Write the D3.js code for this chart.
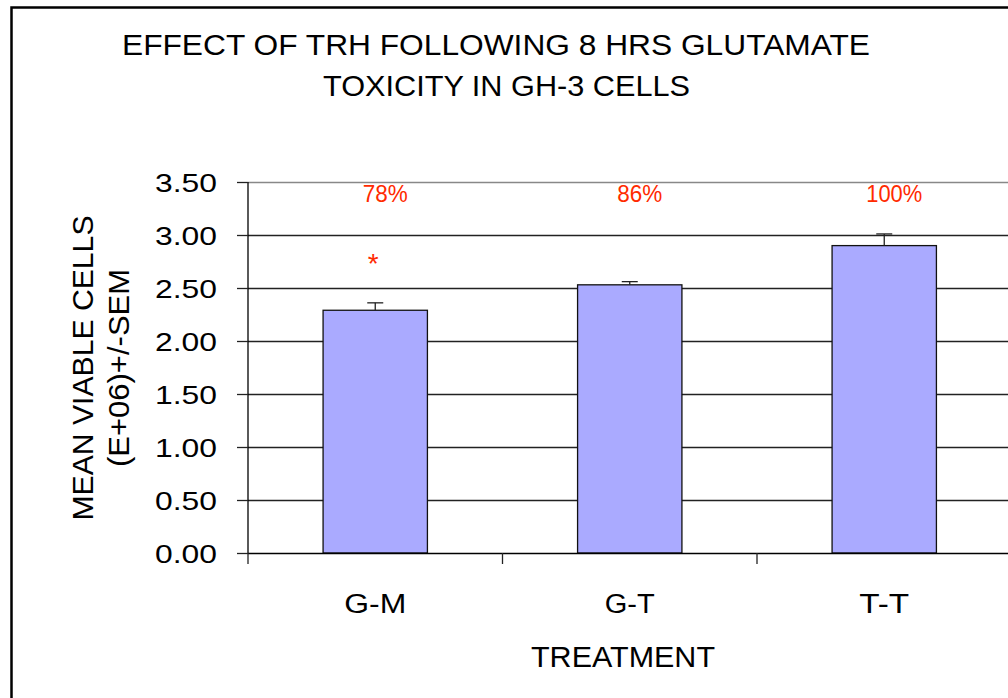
<!DOCTYPE html>
<html><head><meta charset="utf-8">
<script src="https://cdn.jsdelivr.net/npm/d3@7"></script>
<style>body{margin:0;background:#fff}svg{display:block;font-family:"Liberation Sans",Arial,sans-serif}</style>
</head><body><svg id="c" width="1008" height="698"></svg>
<script>
const categories = ["G-M","G-T","T-T"];
const values = [2.29, 2.53, 2.90];
const errors = [0.07, 0.03, 0.11];
const pctLabels = ["78%","86%","100%"];
const sigMarks = ["*","",""];
const yTicks = [0,0.5,1,1.5,2,2.5,3,3.5];

const svg = d3.select("#c");
svg.append("rect").attr("x",11.5).attr("y",7.5).attr("width",1010).attr("height",700)
  .attr("fill","none").attr("stroke","#000").attr("stroke-width",2.5);

const L=248, R=1011.5, T=182, B=553;
const x = d3.scaleBand().domain(categories).range([L,R]).paddingInner(0.59).paddingOuter(0.295);
const y = d3.scaleLinear().domain([0,3.5]).range([B,T]);

function fit(sel, w){ sel.attr("textLength", w).attr("lengthAdjust","spacingAndGlyphs"); return sel; }

svg.append("g").selectAll("line").data(yTicks.slice(1)).join("line")
  .attr("x1",L).attr("x2",R).attr("y1",d=>y(d)+0.5).attr("y2",d=>y(d)+0.5)
  .attr("stroke",d=>d===3.5?"#888":"#222").attr("stroke-width",1.3);

svg.append("g").selectAll("rect").data(values).join("rect")
  .attr("x",(d,i)=>x(categories[i])).attr("width",x.bandwidth())
  .attr("y",d=>y(d)).attr("height",d=>B-y(d))
  .attr("fill","#aaaaff").attr("stroke","#111").attr("stroke-width",1.3);

const eg = svg.append("g").attr("stroke","#222").attr("stroke-width",1.3);
values.forEach((v,i)=>{
  const cx = x(categories[i])+x.bandwidth()/2;
  eg.append("line").attr("x1",cx).attr("x2",cx).attr("y1",y(v)).attr("y2",y(v+errors[i]));
  eg.append("line").attr("x1",cx-8).attr("x2",cx+8).attr("y1",y(v+errors[i])).attr("y2",y(v+errors[i]));
});

const ya = svg.append("g").attr("transform",`translate(${L},0)`)
  .call(d3.axisLeft(y).tickValues(yTicks).tickFormat(d3.format(".2f")).tickSize(11).tickPadding(20));
ya.select(".domain").attr("d",`M0,${T}V${B}`).attr("stroke","#000").attr("stroke-width",1.3);
ya.selectAll(".tick line").attr("stroke","#222").attr("stroke-width",1.3);
const tl = ya.selectAll(".tick text").attr("font-size",26).attr("fill","#000")
  .attr("font-family","Liberation Sans, Arial, sans-serif").attr("dy","0.36em");
fit(tl, 62);

const xa = svg.append("g").attr("transform",`translate(0,${B})`);
xa.append("line").attr("x1",L).attr("x2",R).attr("y1",0.5).attr("y2",0.5).attr("stroke","#000").attr("stroke-width",1.5);
const bounds = d3.range(categories.length+1).map(i=>L+i*(R-L)/categories.length);
xa.selectAll("line.tk").data(bounds).join("line").attr("class","tk")
  .attr("x1",d=>d).attr("x2",d=>d).attr("y1",0).attr("y2",11).attr("stroke","#222").attr("stroke-width",1.3);
const xl = xa.selectAll("text").data(categories).join("text")
  .attr("x",d=>x(d)+x.bandwidth()/2).attr("y",60).attr("text-anchor","middle")
  .attr("font-size",27).text(d=>d);
xl.attr("textLength",d=>d==="G-M"?62:50).attr("lengthAdjust","spacingAndGlyphs");

svg.append("g").selectAll("text").data(pctLabels).join("text")
  .attr("x",(d,i)=>x(categories[i])+x.bandwidth()/2+10).attr("y",201.5).attr("text-anchor","middle")
  .attr("font-size",24).attr("fill","#ff2a00")
  .attr("textLength",d=>d.length>3?56:45).attr("lengthAdjust","spacingAndGlyphs").text(d=>d);
svg.append("g").selectAll("text").data(sigMarks).join("text")
  .attr("x",(d,i)=>x(categories[i])+x.bandwidth()/2-2).attr("y",273).attr("text-anchor","middle")
  .attr("font-size",28).attr("fill","#ff2a00").text(d=>d);

fit(svg.append("text").attr("x",496).attr("y",55).attr("text-anchor","middle").attr("font-size",30)
  .text("EFFECT OF TRH FOLLOWING 8 HRS GLUTAMATE"), 748);
fit(svg.append("text").attr("x",506.5).attr("y",96).attr("text-anchor","middle").attr("font-size",30)
  .text("TOXICITY IN GH-3 CELLS"), 367);

fit(svg.append("text").attr("x",623).attr("y",667).attr("text-anchor","middle").attr("font-size",29).text("TREATMENT"), 184);
const yt = svg.append("g").attr("transform","translate(0,368) rotate(-90)");
fit(yt.append("text").attr("x",0).attr("y",93).attr("text-anchor","middle").attr("font-size",29).text("MEAN VIABLE CELLS"), 305);
fit(yt.append("text").attr("x",0).attr("y",129).attr("text-anchor","middle").attr("font-size",29).text("(E+06)+/-SEM"), 198);
</script></body></html>
